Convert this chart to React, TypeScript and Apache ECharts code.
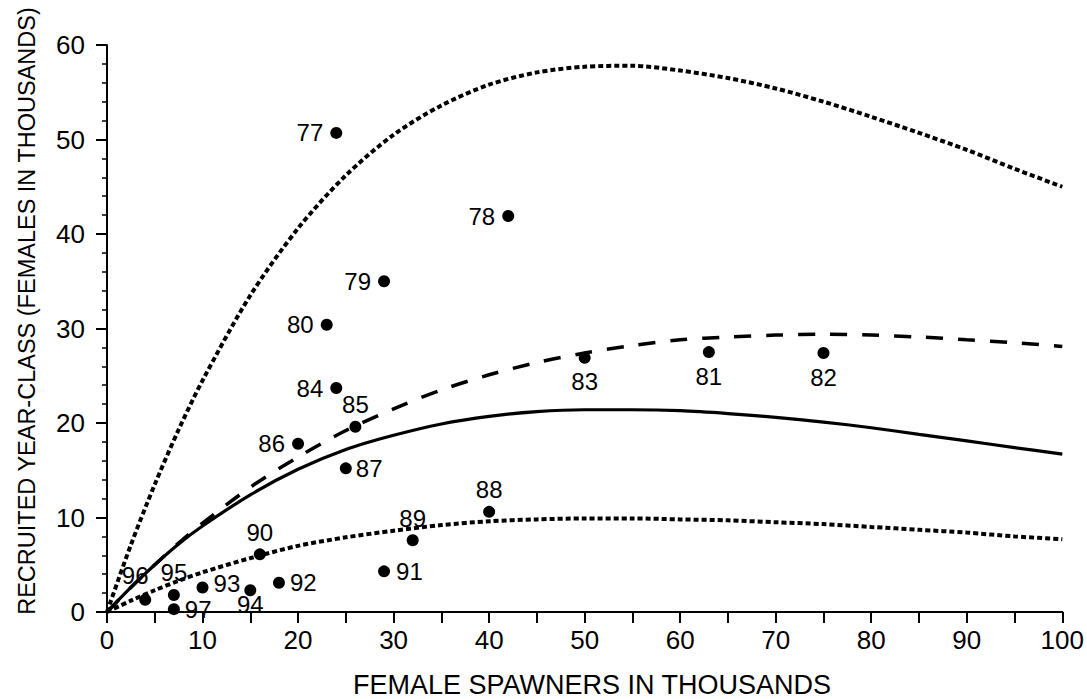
import React, { useEffect, useRef } from "react";
import * as echarts from "echarts";

// Spawner values (thousands) at which the fitted curves were read
const curveSpawners = [0, 2.5, 5, 7.5, 10, 15, 20, 25, 30, 35, 40, 45, 50, 55, 60, 65, 70, 75, 80, 85, 90, 95, 100];
// Upper dotted curve
const upperDotted = [0, 7.1, 13.5, 19.3, 24.5, 33.5, 40.6, 46.2, 50.5, 53.6, 55.8, 57.1, 57.7, 57.8, 57.3, 56.5, 55.4, 54.0, 52.4, 50.7, 48.9, 46.9, 45.0];
// Dashed curve
const dashedCurve = [0, 2.6, 5.0, 7.3, 9.4, 13.2, 16.4, 19.2, 21.5, 23.5, 25.1, 26.4, 27.4, 28.2, 28.8, 29.1, 29.3, 29.4, 29.3, 29.1, 28.8, 28.5, 28.1];
// Solid curve
const solidCurve = [0, 2.6, 5.0, 7.2, 9.1, 12.4, 15.1, 17.2, 18.7, 19.9, 20.7, 21.2, 21.4, 21.4, 21.3, 21.0, 20.6, 20.1, 19.5, 18.8, 18.1, 17.4, 16.7];
// Lower dotted curve
const lowerDotted = [0, 1.2, 2.3, 3.3, 4.2, 5.7, 7.0, 7.9, 8.6, 9.2, 9.6, 9.8, 9.9, 9.9, 9.8, 9.7, 9.5, 9.3, 9.0, 8.7, 8.4, 8.0, 7.7];

// Observed year-classes
const years = ["77", "78", "79", "80", "84", "85", "86", "87", "83", "81", "82", "88", "89", "90", "91", "92", "93", "94", "95", "96", "97"];
const spawners = [24, 42, 29, 23, 24, 26, 20, 25, 50, 63, 75, 40, 32, 16, 29, 18, 10, 15, 7, 4, 7];
const recruits = [50.7, 41.9, 35.0, 30.4, 23.7, 19.6, 17.8, 15.2, 26.9, 27.5, 27.4, 10.6, 7.6, 6.1, 4.3, 3.1, 2.6, 2.3, 1.8, 1.3, 0.3];

const xTicks = [0, 10, 20, 30, 40, 50, 60, 70, 80, 90, 100];

// label placement per year-class (style only)
const labelPlacement: Record<string, { position: string; distance: number; offset?: number[] }> = {
  "77": { position: "left", distance: 7 },
  "78": { position: "left", distance: 7 },
  "79": { position: "left", distance: 7 },
  "80": { position: "left", distance: 7 },
  "84": { position: "left", distance: 7 },
  "85": { position: "top", distance: 4 },
  "86": { position: "left", distance: 7 },
  "87": { position: "right", distance: 4 },
  "83": { position: "bottom", distance: 6 },
  "81": { position: "bottom", distance: 6 },
  "82": { position: "bottom", distance: 6 },
  "88": { position: "top", distance: 4 },
  "89": { position: "top", distance: 4 },
  "90": { position: "top", distance: 4 },
  "91": { position: "right", distance: 6 },
  "92": { position: "right", distance: 5 },
  "93": { position: "right", distance: 5, offset: [0, -4] },
  "94": { position: "bottom", distance: -4 },
  "95": { position: "top", distance: 4 },
  "96": { position: "top", distance: 4, offset: [-10, -2] },
  "97": { position: "right", distance: 5 },
};

const FONT = "'Liberation Sans', Arial, Helvetica, sans-serif";

export default function App() {
  const ref = useRef<HTMLDivElement>(null);

  useEffect(() => {
    if (!ref.current) return;
    const chart = echarts.init(ref.current, undefined, { renderer: "svg" });
    const pairs = (ys: number[]) => curveSpawners.map((x, i) => [x, ys[i]]);
    const lineSeries = (name: string, ys: number[], type: any, width: number) => ({
      name,
      type: "line",
      data: pairs(ys),
      smooth: 0.3,
      symbol: "none",
      silent: true,
      lineStyle: { color: "#000", width, type, cap: "butt", opacity: 1 },
      z: 2,
    });

    chart.setOption({
      animation: false,
      backgroundColor: "#fff",
      grid: { left: 107, right: 21, top: 45, bottom: 87, containLabel: false },
      xAxis: {
        type: "value",
        min: 0,
        max: 100,
        interval: 5,
        axisLine: { show: true, onZero: false, lineStyle: { color: "#000", width: 2 } },
        axisTick: { show: true, length: 11, lineStyle: { color: "#000", width: 2 } },
        axisLabel: {
          color: "#000",
          fontFamily: FONT,
          fontSize: 26,
          margin: 15,
          formatter: (v: number) => (xTicks.indexOf(v) >= 0 ? String(v) : ""),
        },
        splitLine: { show: false },
      },
      yAxis: {
        type: "value",
        min: 0,
        max: 60,
        interval: 10,
        axisLine: { show: true, onZero: false, lineStyle: { color: "#000", width: 2 } },
        axisTick: { show: true, length: 11, lineStyle: { color: "#000", width: 2 } },
        minorTick: { show: true, splitNumber: 5, length: 5, lineStyle: { color: "#000", width: 1.5 } },
        axisLabel: { color: "#000", fontFamily: FONT, fontSize: 26, margin: 22 },
        splitLine: { show: false },
      },
      graphic: [
        {
          type: "text",
          x: 27,
          y: 311,
          rotation: Math.PI / 2,
          style: {
            text: "RECRUITED YEAR-CLASS (FEMALES IN THOUSANDS)",
            fontFamily: FONT,
            fontSize: 23.5,
            fill: "#000",
            textAlign: "center",
            textVerticalAlign: "middle",
          },
        },
        {
          type: "text",
          x: 592,
          y: 685,
          style: {
            text: "FEMALE SPAWNERS IN THOUSANDS",
            fontFamily: FONT,
            fontSize: 27,
            fill: "#000",
            textAlign: "center",
            textVerticalAlign: "middle",
          },
        },
      ],
      series: [
        lineSeries("upper", upperDotted, [5, 3], 4),
        lineSeries("dashed", dashedCurve, [17, 15], 3.5),
        lineSeries("solid", solidCurve, "solid", 3.2),
        lineSeries("lower", lowerDotted, [5, 3], 4),
        {
          name: "observed",
          type: "scatter",
          symbol: "circle",
          symbolSize: 12,
          itemStyle: { color: "#000", opacity: 1 },
          label: { show: true, color: "#000", opacity: 1, fontFamily: FONT, fontSize: 24 },
          z: 3,
          data: spawners.map((s, i) => {
            const p = labelPlacement[years[i]];
            return {
              value: [s, recruits[i]],
              label: {
                show: true,
                formatter: years[i],
                position: p.position,
                distance: p.distance,
                offset: p.offset || [0, 0],
                color: "#000",
                opacity: 1,
                fontFamily: FONT,
                fontSize: 24,
              },
            };
          }),
        },
      ],
    });
    return () => chart.dispose();
  }, []);

  return (
    <div
      ref={ref}
      style={{ position: "fixed", left: 0, top: 0, width: 1087, height: 699, background: "#fff" }}
    />
  );
}
